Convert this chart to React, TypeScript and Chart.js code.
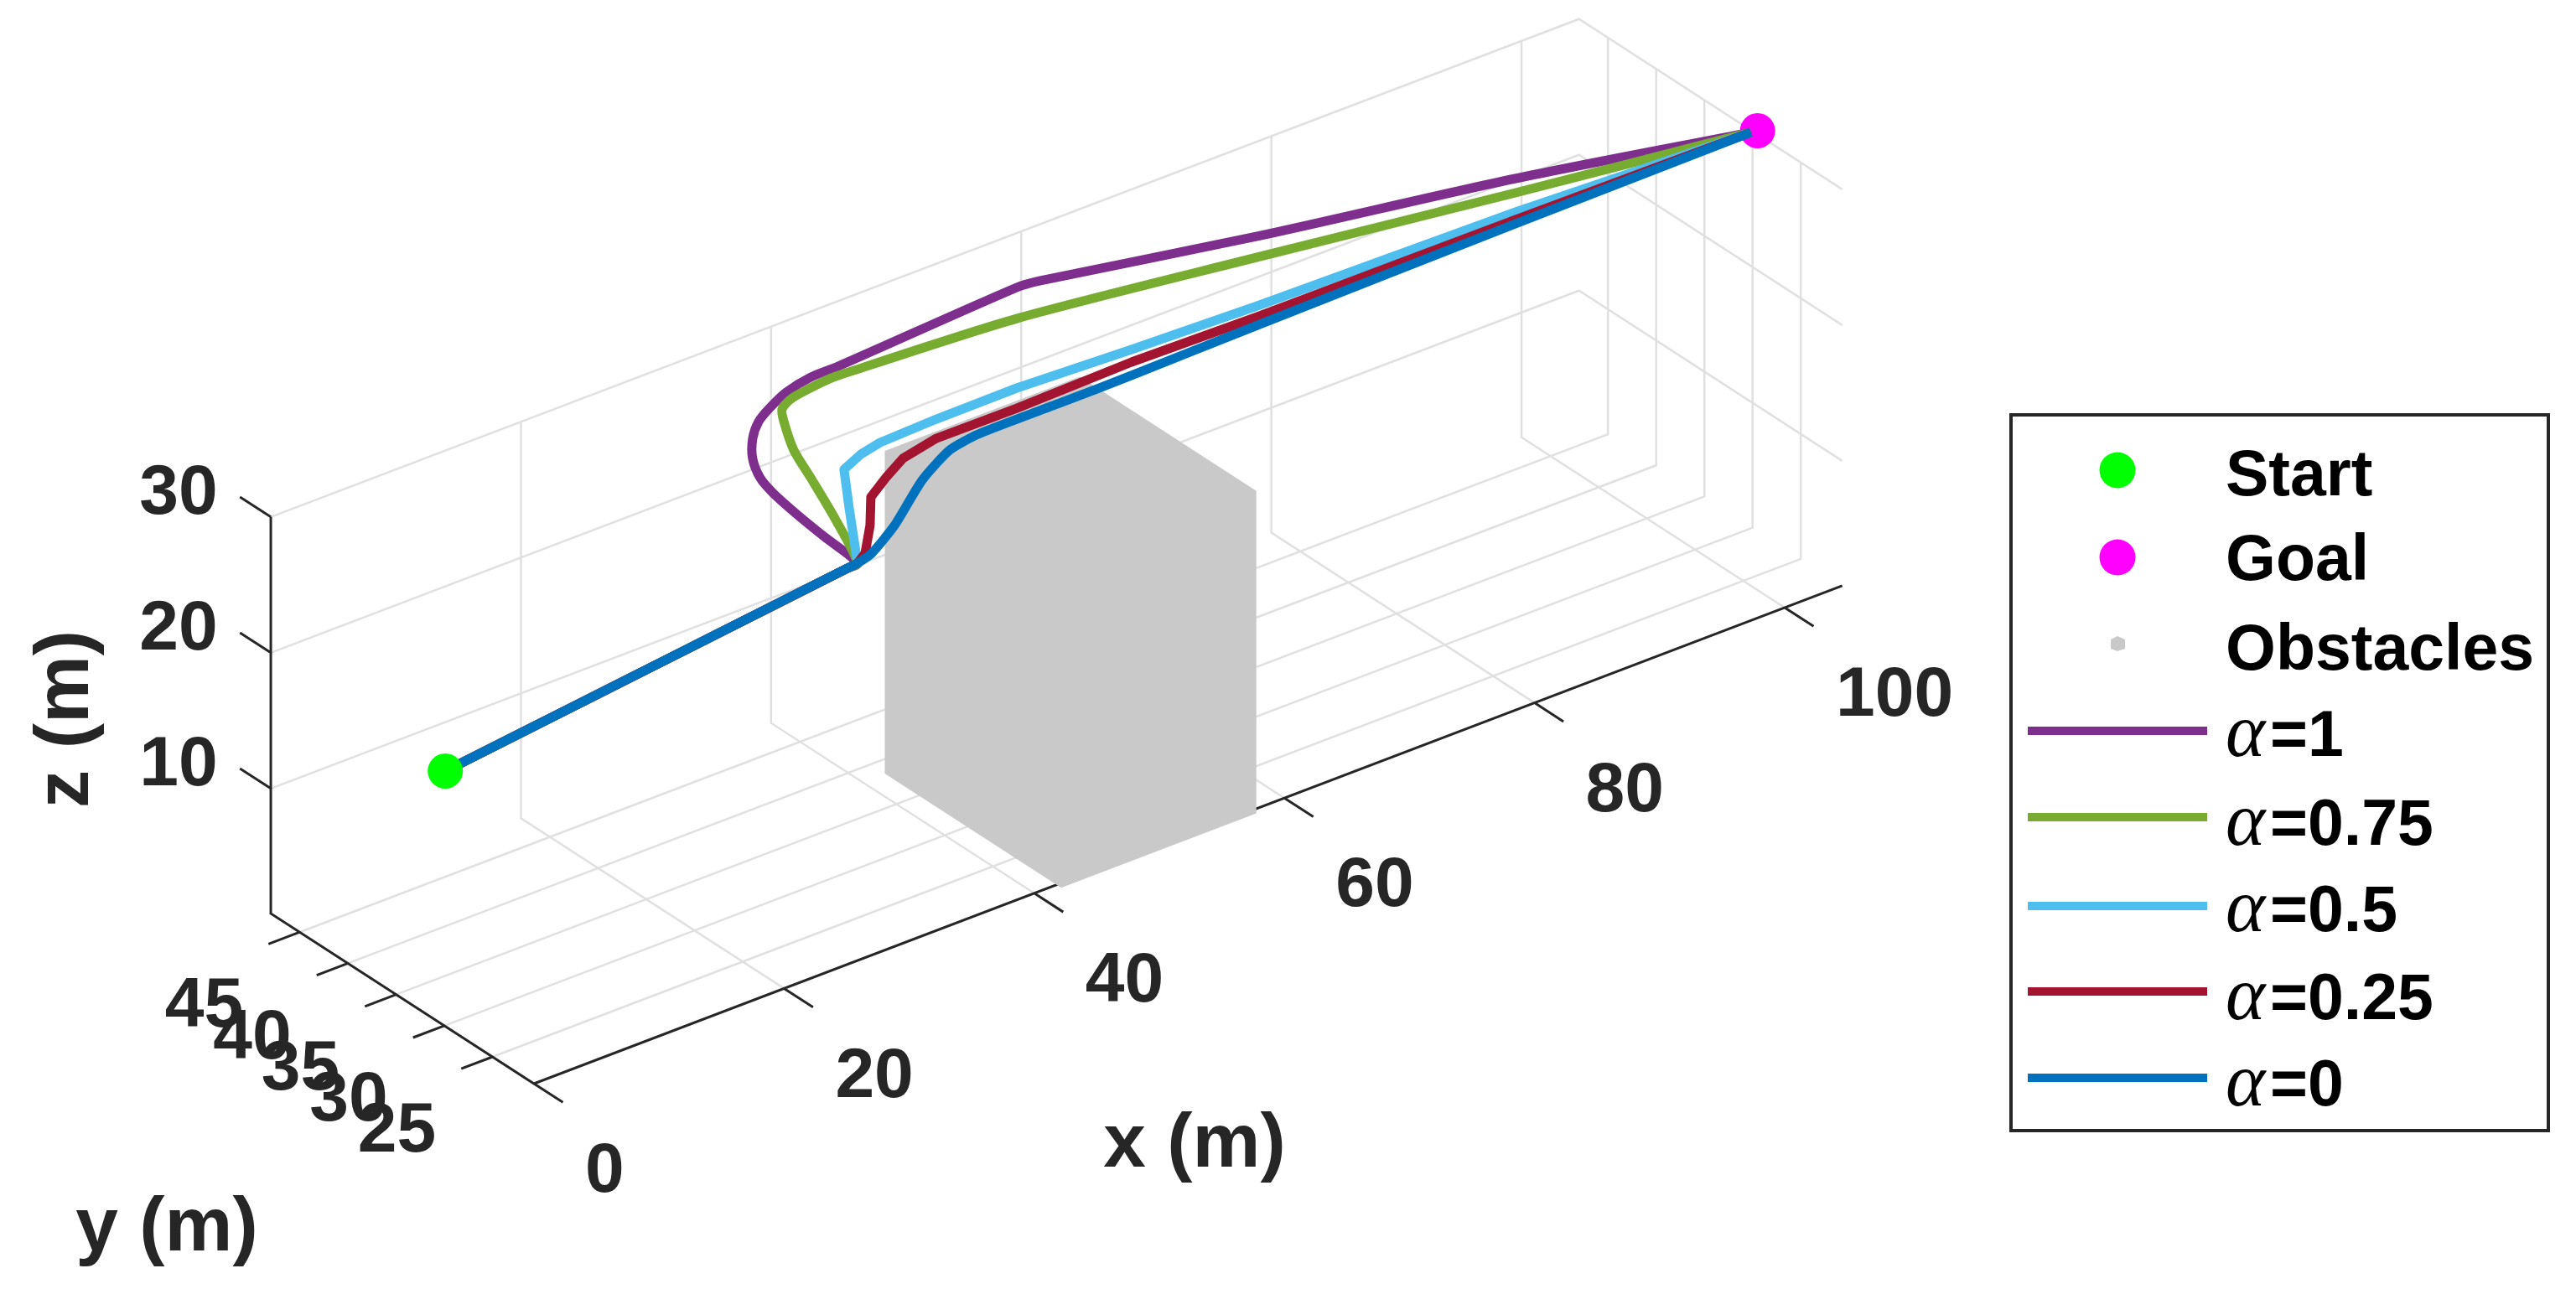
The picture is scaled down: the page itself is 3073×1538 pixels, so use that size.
import React, { useEffect, useRef } from "react";
import { Chart, registerables } from "chart.js";

Chart.register(...registerables);

const W = 3073;
const H = 1538;

// axis limits and ticks
const xMax = 104.6;
const yMin = 20.7;
const yMax = 48;
const zMin = 0.8;
const zMax = 30;
const xTicks = [0, 20, 40, 60, 80, 100];
const yTicks = [25, 30, 35, 40, 45];
const zTicks = [10, 20, 30];

// start and goal
const startPoint = [0, 29.9, 19.6];
const goalPoint = [105, 30, 29.9];

// trajectories (x, y, z in metres)
const purpleX = [0, 32.2, 33.04, 33.09, 33.04, 33.07, 33.28, 34.09, 35.34, 36.62, 37.9, 39.76, 41.96, 43.99, 58.58, 60.13, 73.61, 90.05, 104.54];
const purpleY = [29.9, 30, 30, 33.55, 36.35, 38.82, 40.42, 42.25, 43.86, 44.91, 45.44, 46.13, 46.44, 46.21, 46.62, 46.28, 41.17, 35.71, 30.09];
const purpleZ = [19.6, 23.19, 23.28, 23.6, 24, 24.4, 24.7, 25, 25.3, 25.6, 25.9, 26.1, 26.3, 26.5, 27, 27.1, 28, 29, 29.9];

const greenX = [0, 32.2, 33.04, 34.88, 36.57, 37.55, 38.95, 39.63, 40.78, 43.36, 44.43, 56.9, 72.51, 89.05, 104.54];
const greenY = [29.9, 30, 30, 34.66, 39.44, 42.47, 45.31, 46.38, 46.82, 46.88, 46.78, 44.44, 39.74, 34.41, 30.09];
const greenZ = [19.6, 23.19, 23.28, 23.7, 24, 24.3, 24.6, 24.8, 25, 25.3, 25.4, 26.3, 27.5, 28.9, 29.9];

const skyX = [0, 33.04, 36.1, 38.26, 39.97, 41.75, 46.09, 52.02, 59.95, 69.04, 87.76, 104.54];
const skyY = [29.9, 30, 34.83, 38.18, 38.65, 38.96, 38.75, 38.11, 36.49, 35.24, 32.73, 30.09];
const skyZ = [19.6, 23.28, 24, 24.6, 24.9, 25, 25.3, 25.8, 26.6, 27.2, 28.7, 29.9];

const redX = [0, 33.04, 33.97, 36.05, 37.99, 39.83, 41.86, 44.79, 50.56, 59.08, 68.19, 87.27, 104.54];
const redY = [29.9, 30, 30.42, 32.61, 35.04, 35.87, 36.75, 37.08, 36.21, 35.36, 34.14, 32.11, 30.09];
const redZ = [19.6, 23.28, 23.5, 23.8, 24.1, 24.5, 24.8, 25.1, 25.7, 26.5, 27.2, 28.6, 29.9];

const blueX = [0, 32.2, 33.04, 33.88, 36.65, 40.93, 44.45, 46.92, 52.98, 58.04, 67.54, 86.95, 104.54];
const blueY = [29.9, 30, 30, 29.61, 30.85, 33.54, 35.25, 35.48, 34.66, 34.01, 33.29, 31.69, 30.09];
const blueZ = [19.6, 23.19, 23.28, 23.9, 24.4, 25, 25.2, 25.4, 26, 26.5, 27.2, 28.6, 29.9];

// obstacle box
const obstacleX = [42, 57.6];
const obstacleY = [20.5, 38.8];
const obstacleZ = [0.6, 24.36];

// labels
const legendLabels = ["Start", "Goal", "Obstacles", "α=1", "α=0.75", "α=0.5", "α=0.25", "α=0"];

type P = { x: number; y: number };

// the axes' oblique view: data metres to the flat plane of the hidden scales
function view(x: number, y: number, z: number): P {
  return {
    x: 637 + 14.92 * x - 11.5 * (y - yMin),
    y: 1293 - 5.68 * x - 7.44 * (y - yMin) - 16.2 * (z - zMin),
  };
}
const GAP: P = { x: NaN, y: NaN };
const path = (xs: number[], ys: number[], zs: number[]) => xs.map((x, i) => view(x, ys[i], zs[i]));
function segments(list: [number, number, number][][]): P[] {
  const out: P[] = [];
  list.forEach((s) => {
    s.forEach((p) => out.push(view(p[0], p[1], p[2])));
    out.push(GAP);
  });
  return out;
}

function gridSegments(): P[] {
  const s: [number, number, number][][] = [];
  xTicks.filter((v) => v > 0).forEach((x) => {
    s.push([[x, yMin, zMin], [x, yMax, zMin], [x, yMax, zMax]]);
  });
  yTicks.forEach((y) => {
    s.push([[0, y, zMin], [xMax, y, zMin], [xMax, y, zMax]]);
  });
  zTicks.forEach((z) => {
    s.push([[0, yMax, z], [xMax, yMax, z], [xMax, yMin, z]]);
  });
  return segments(s);
}

function axisSegments(): P[] {
  const s: [number, number, number][][] = [
    [[0, yMax, zMax], [0, yMax, zMin], [0, yMin, zMin], [xMax, yMin, zMin]],
  ];
  xTicks.forEach((x) => s.push([[x, yMin, zMin], [x, yMin - 3, zMin]]));
  yTicks.forEach((y) => s.push([[0, y, zMin], [-2.5, y, zMin]]));
  zTicks.forEach((z) => s.push([[0, yMax, z], [0, yMax + 3.2, z]]));
  return segments(s);
}

function obstacleOutline(): P[] {
  const [x1, x2] = obstacleX;
  const [y1, y2] = obstacleY;
  const [z1, z2] = obstacleZ;
  return [
    view(x1, y1, z1),
    view(x2, y1, z1),
    view(x2, y1, z2),
    view(x2, y2, z2),
    view(x1, y2, z2),
    view(x1, y2, z1),
    view(x1, y1, z1),
  ];
}

const TICK_FONT = 'bold 84px "Liberation Sans", Arial, sans-serif';
const TITLE_FONT = 'bold 91px "Liberation Sans", Arial, sans-serif';
const LEGEND_FONT = 'bold 77px "Liberation Sans", Arial, sans-serif';
const ALPHA_FONT = 'italic 90px "Liberation Serif", "Times New Roman", serif';
const INK = "#262626";

const annotations = {
  id: "annotations",
  afterDatasetsDraw(chart: any) {
    const ctx: CanvasRenderingContext2D = chart.ctx;
    const sx = chart.scales.x;
    const sy = chart.scales.y;
    const at = (p: P) => ({ x: sx.getPixelForValue(p.x), y: sy.getPixelForValue(p.y) });
    ctx.save();
    ctx.fillStyle = INK;
    ctx.textAlign = "left";
    ctx.textBaseline = "middle";
    ctx.font = TICK_FONT;
    xTicks.forEach((v) => {
      const p = at(view(v, yMin, zMin));
      ctx.fillText(String(v), p.x + 61, p.y + 106);
    });
    ctx.textAlign = "center";
    yTicks.forEach((v) => {
      const p = at(view(0, v, zMin));
      ctx.fillText(String(v), p.x - 114, p.y + 90);
    });
    zTicks.forEach((v) => {
      const p = at(view(0, yMax, v));
      ctx.fillText(String(v), p.x - 110, p.y - 27);
    });
    ctx.font = TITLE_FONT;
    ctx.fillText("x (m)", 1425, 1367);
    ctx.fillText("y (m)", 199, 1467);
    ctx.save();
    ctx.translate(80, 858);
    ctx.rotate(-Math.PI / 2);
    ctx.fillText("z (m)", 0, 0);
    ctx.restore();

    // legend box
    ctx.strokeStyle = INK;
    ctx.lineWidth = 4;
    ctx.strokeRect(2399, 495, 641, 854);
    const rows = [561, 665, 768, 872, 975, 1081, 1183, 1286];
    const bases = [591, 692, 799, 902, 1008, 1111, 1216, 1319];
    const ds = chart.data.datasets;
    const byLabel = (l: string) => ds.find((d: any) => d.label === l);
    legendLabels.forEach((label, i) => {
      const d = byLabel(label);
      const y = rows[i];
      if (i < 2) {
        ctx.fillStyle = d.pointBackgroundColor;
        ctx.beginPath();
        ctx.arc(2526, y, 21.5, 0, Math.PI * 2);
        ctx.fill();
      } else if (i === 2) {
        ctx.fillStyle = d.backgroundColor;
        ctx.beginPath();
        ctx.moveTo(2518, y - 5);
        ctx.lineTo(2526, y - 9);
        ctx.lineTo(2535, y - 5);
        ctx.lineTo(2535, y + 6);
        ctx.lineTo(2526, y + 9);
        ctx.lineTo(2518, y + 6);
        ctx.closePath();
        ctx.fill();
      } else {
        ctx.strokeStyle = d.borderColor;
        ctx.lineWidth = 10;
        ctx.beginPath();
        ctx.moveTo(2419, y);
        ctx.lineTo(2633, y);
        ctx.stroke();
      }
      ctx.fillStyle = "#000000";
      ctx.textAlign = "left";
      ctx.textBaseline = "alphabetic";
      if (label.startsWith("α")) {
        ctx.font = ALPHA_FONT;
        ctx.fillText("α", 2655, bases[i]);
        ctx.font = LEGEND_FONT;
        ctx.fillText(label.slice(1), 2708, bases[i]);
      } else {
        ctx.font = LEGEND_FONT;
        ctx.fillText(label, 2655, bases[i]);
      }
    });
    ctx.restore();
  },
};

function trajectory(label: string, color: string, data: P[], order: number, tension: number) {
  return {
    label,
    data,
    order,
    showLine: true,
    borderColor: color,
    backgroundColor: color,
    borderWidth: 11,
    borderJoinStyle: "round",
    borderCapStyle: "butt",
    pointRadius: 0,
    tension,
    clip: false,
  };
}

export default function App() {
  const ref = useRef<HTMLCanvasElement>(null);
  useEffect(() => {
    document.body.style.margin = "0";
    document.body.style.background = "#ffffff";
    const s = view(startPoint[0], startPoint[1], startPoint[2]);
    const g = view(goalPoint[0], goalPoint[1], goalPoint[2]);
    const chart = new Chart(ref.current as HTMLCanvasElement, {
      type: "scatter",
      data: {
        datasets: [
          {
            label: "Start",
            data: [s],
            order: 0,
            showLine: false,
            pointRadius: 21,
            pointBorderWidth: 0,
            pointBackgroundColor: "#00ff00",
            clip: false,
          },
          {
            label: "Goal",
            data: [g],
            order: 10,
            showLine: false,
            pointRadius: 21,
            pointBorderWidth: 0,
            pointBackgroundColor: "#ff00ff",
            clip: false,
          },
          {
            label: "Obstacles",
            data: obstacleOutline(),
            order: 20,
            showLine: true,
            fill: "shape",
            backgroundColor: "#c9c9c9",
            borderColor: "#c9c9c9",
            borderWidth: 0,
            pointRadius: 0,
            tension: 0,
            clip: false,
          },
          trajectory("α=1", "#7E2F8E", path(purpleX, purpleY, purpleZ), 5, 0.3),
          trajectory("α=0.75", "#77AC30", path(greenX, greenY, greenZ), 4, 0.25),
          trajectory("α=0.5", "#4DBEEE", path(skyX, skyY, skyZ), 3, 0),
          trajectory("α=0.25", "#A2142F", path(redX, redY, redZ), 2, 0),
          trajectory("α=0", "#0072BD", path(blueX, blueY, blueZ), 1, 0.2),
          {
            label: "grid",
            data: gridSegments(),
            order: 30,
            showLine: true,
            spanGaps: false,
            borderColor: "#e0e0e0",
            borderWidth: 2.5,
            pointRadius: 0,
            tension: 0,
            clip: false,
          },
          {
            label: "axes",
            data: axisSegments(),
            order: 25,
            showLine: true,
            spanGaps: false,
            borderColor: INK,
            borderWidth: 3,
            pointRadius: 0,
            tension: 0,
            clip: false,
          },
        ] as any,
      },
      options: {
        animation: false,
        responsive: false,
        devicePixelRatio: 1,
        layout: { padding: 0, autoPadding: false },
        plugins: { legend: { display: false }, tooltip: { enabled: false } },
        events: [],
        scales: {
          x: { type: "linear", min: 0, max: W, display: false },
          y: { type: "linear", min: 0, max: H, reverse: true, display: false },
        },
      },
      plugins: [annotations],
    } as any);
    return () => chart.destroy();
  }, []);
  return (
    <div style={{ width: W, height: H, overflow: "hidden", background: "#ffffff" }}>
      <canvas ref={ref} width={W} height={H} style={{ display: "block" }} />
    </div>
  );
}
